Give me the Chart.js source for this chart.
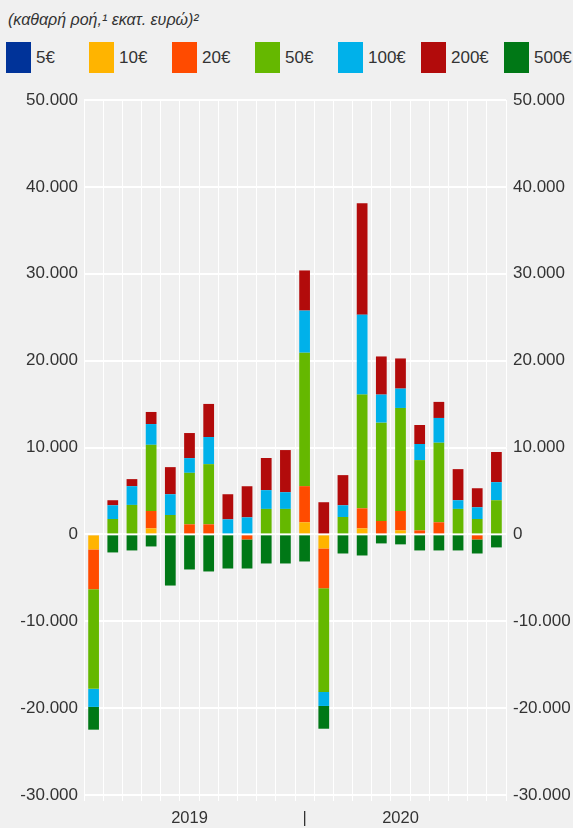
<!DOCTYPE html>
<html>
<head>
<meta charset="utf-8">
<script src="https://cdn.jsdelivr.net/npm/chart.js@4"></script>
<style>
  body { margin: 0; background: #f0f0f0; width: 573px; height: 828px; overflow: hidden; position: relative; font-family: "Liberation Sans", Arial, sans-serif; color: #333; }
  #title { position: absolute; left: 8px; top: 11px; font-size: 16px; font-style: italic; }
  #legend { position: absolute; left: 6px; top: 42px; display: flex; }
  .item { width: 83px; display: flex; align-items: center; font-size: 17px; }
  .box { width: 25px; height: 31px; margin-right: 5px; }
  #wrap { position: absolute; left: 0; top: 80px; width: 573px; height: 748px; }
</style>
</head>
<body>
<div id="title">(καθαρή ροή,¹ εκατ. ευρώ)²</div>
<div id="legend"></div>
<div id="wrap"><canvas id="chartCanvas"></canvas></div>
<script>
// κατηγορίες (Ιαν 2019 - Οκτ 2020), μόνο μερικές έχουν ετικέτα
const labels = ['', '', '', '', '', '2019', '', '', '', '', '', '|',
                '', '', '', '', '2020', '', '', '', '', ''];

const denominations = ['5€', '10€', '20€', '50€', '100€', '200€', '500€'];
const colors = ['#003399', '#ffb400', '#ff4b00', '#65b800', '#00b1ea', '#b20b0b', '#007816'];

// καθαρή ροή ανά ονομαστική αξία (εκατ. ευρώ)
const eur5   = [0, 0, 0, 0, 0, 0, 0, 0, 0, 0, 0, 0, 0, 0, 0, 0, 0, 0, 0, 0, 0, 0];
const eur10  = [-1730, 0, 0, 690, 0, 0, 0, 0, 0, 0, 0, 1390, -1620, 0, 690, 0, 460, 0, 0, 0, 0, 0];
const eur20  = [-4580, 0, 0, 2000, 0, 1155, 1155, 0, -580, 0, 0, 4160, -4580, 0, 2310, 1540, 2230, 460, 1390, 0, -580, 0];
const eur50  = [-11470, 1770, 3390, 7620, 2230, 5930, 6930, 0, 0, 2930, 2930, 15360, -11930, 2000, 13090, 11320, 11860, 8090, 9160, 2930, 1770, 3930];
const eur100 = [-2080, 1580, 2160, 2390, 2390, 1690, 3120, 1730, 1960, 2160, 1925, 4850, -1620, 1350, 9200, 3230, 2230, 1850, 2850, 1000, 1350, 2080];
const eur200 = [0, 580, 810, 1390, 3120, 2890, 3810, 2890, 3580, 3700, 4850, 4620, 3700, 3470, 12820, 4390, 3470, 2190, 1850, 3580, 2190, 3470];
const eur500 = [-2620, -2080, -1850, -1390, -5890, -4040, -4270, -3930, -3350, -3350, -3350, -3120, -2620, -2200, -2430, -1040, -1150, -1850, -1850, -1850, -1620, -1500];

const series = [eur5, eur10, eur20, eur50, eur100, eur200, eur500];

// υπόμνημα σε html (σταθερό πλάτος στηλών)
const legendBox = document.getElementById('legend');
denominations.forEach(function (name, i) {
    const item = document.createElement('div');
    item.className = 'item';
    item.innerHTML = '<div class="box" style="background:' + colors[i] + '"></div><span>' + name + '</span>';
    legendBox.appendChild(item);
});

function fmt(v) {
    const s = String(Math.abs(v)).replace(/\B(?=(\d{3})+(?!\d))/g, '.');
    return (v < 0 ? '-' : '') + s;
}

const tickFont = { family: '"Liberation Sans", Arial, sans-serif', size: 17 };

new Chart(document.getElementById('chartCanvas'), {
    type: 'bar',
    data: {
        labels: labels,
        datasets: series.map(function (d, i) {
            return {
                label: denominations[i],
                data: d,
                backgroundColor: colors[i],
                categoryPercentage: 1,
                barPercentage: 0.56
            };
        })
    },
    options: {
        responsive: true,
        maintainAspectRatio: false,
        animation: false,
        layout: { padding: { top: 20, left: 0, right: 0, bottom: 0 } },
        plugins: {
            legend: { display: false },
            tooltip: { enabled: false }
        },
        scales: {
            x: {
                stacked: true,
                grid: { color: '#ffffff', lineWidth: 1, offset: true, drawTicks: true, tickLength: 6 },
                border: { display: false },
                ticks: { autoSkip: false, maxRotation: 0, padding: 8, color: '#333', font: { family: tickFont.family, size: 16.5 } },
                afterFit: function (s) { s.height = 33; }
            },
            y: {
                stacked: true,
                position: 'left',
                min: -30000,
                max: 50000,
                grid: { color: '#ffffff', lineWidth: 2, drawTicks: false },
                border: { display: false },
                ticks: { stepSize: 10000, padding: 6, color: '#333', font: tickFont, callback: fmt },
                afterFit: function (s) { s.width = 84; }
            },
            y2: {
                position: 'right',
                min: -30000,
                max: 50000,
                grid: { display: false, drawTicks: false },
                border: { display: false },
                ticks: { stepSize: 10000, padding: 7, color: '#333', font: tickFont, callback: fmt },
                afterFit: function (s) { s.width = 67; }
            }
        }
    }
});
</script>
</body>
</html>
